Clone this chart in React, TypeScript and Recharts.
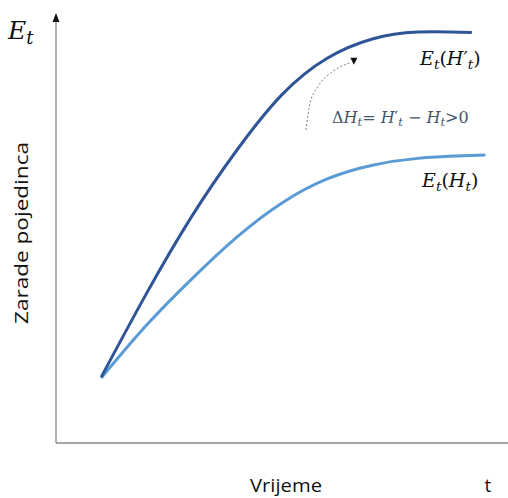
import { LineChart, Line, XAxis, YAxis, ReferenceDot, ReferenceLine } from "recharts";

// time grid (arbitrary units, 0..100 along the horizontal axis)
const timeHigh = [10, 20, 30, 40, 50, 60, 70, 80, 92];
const timeBase = [10, 20, 30, 40, 50, 60, 70, 80, 90, 95];
// earnings with higher human capital H'_t (dark curve)
const earningsHigh = [15.4, 34.9, 52.9, 68.4, 81.4, 89.9, 94.4, 96.0, 95.9];
// earnings with H_t (light curve)
const earningsBase = [15.2, 27.5, 38.3, 48.1, 56.1, 61.7, 64.9, 66.5, 67.1, 67.3];

// dotted arrow showing the shift from H_t to H'_t
const shiftTime = [55.3, 56.2, 58.0, 61.1, 65.0];
const shiftValue = [73.1, 79.4, 83.4, 86.7, 88.8];

const highData = timeHigh.map((t, i) => ({ t, high: earningsHigh[i] }));
const baseData = timeBase.map((t, i) => ({ t, base: earningsBase[i] }));
const shiftData = shiftTime.map((t, i) => ({ t, shift: shiftValue[i] }));

const AXIS = "#898989";
const DARK = "#2F5597";
const LIGHT = "#5B9BD5";
const SERIF = "'DejaVu Serif', serif";
const SANS = "'Open Sans', sans-serif";

function UpArrow(props: any) {
  const { cx, cy } = props;
  return <path d={`M${cx},${cy - 2} L${cx - 3.5},${cy + 7} L${cx + 3.5},${cy + 7} Z`} fill="#111" />;
}

function DownArrow(props: any) {
  const { cx, cy } = props;
  return <path d={`M${cx - 3.5},${cy - 3} L${cx + 3.5},${cy - 3} L${cx},${cy + 4} Z`} fill="#111" />;
}

function MathLabel({ x, y, size, parts, fill = "#111" }: any) {
  return (
    <text x={x} y={y} fontFamily={SERIF} fontSize={size} fill={fill}>
      {parts.map((p: any, i: number) => (
        <tspan
          key={i}
          fontStyle={p.italic ? "italic" : "normal"}
          fontSize={p.sub ? size * 0.72 : size}
          dy={p.dy ?? 0}
        >
          {p.text}
        </tspan>
      ))}
    </text>
  );
}

export default function App() {
  return (
    <div style={{ position: "absolute", left: 0, top: 0, width: 508, height: 498, background: "#fff" }}>
      <LineChart width={508} height={498} margin={{ top: 15, right: 0, bottom: 55, left: 56 }}>
        <XAxis dataKey="t" type="number" domain={[0, 100]} hide allowDataOverflow />
        <YAxis type="number" domain={[0, 100]} hide allowDataOverflow />
        <ReferenceLine y={0} stroke={AXIS} strokeWidth={1.3} />
        <ReferenceLine x={0} stroke={AXIS} strokeWidth={1.3} />
        <Line
          data={baseData}
          dataKey="base"
          type="natural"
          stroke={LIGHT}
          strokeWidth={3}
          dot={false}
          isAnimationActive={false}
        />
        <Line
          data={highData}
          dataKey="high"
          type="natural"
          stroke={DARK}
          strokeWidth={3}
          dot={false}
          isAnimationActive={false}
        />
        <Line
          data={shiftData}
          dataKey="shift"
          type="monotone"
          stroke="#7f7f7f"
          strokeWidth={1}
          strokeDasharray="2 2"
          dot={false}
          isAnimationActive={false}
        />
        <ReferenceDot x={65.9} y={89.3} r={4} shape={DownArrow} ifOverflow="visible" />
        <ReferenceDot x={0} y={100} r={4} shape={UpArrow} ifOverflow="visible" />
      </LineChart>

      <svg width={508} height={498} style={{ position: "absolute", left: 0, top: 0, pointerEvents: "none" }}>
        <MathLabel
          x={8}
          y={39}
          size={25}
          parts={[
            { text: "E", italic: true },
            { text: "t", italic: true, sub: true, dy: 5 },
          ]}
        />
        <MathLabel
          x={420}
          y={65}
          size={19}
          parts={[
            { text: "E", italic: true },
            { text: "t", italic: true, sub: true, dy: 4 },
            { text: "(", dy: -4 },
            { text: "H", italic: true },
            { text: "\u2032" },
            { text: "t", italic: true, sub: true, dy: 4 },
            { text: ")", dy: -4 },
          ]}
        />
        <MathLabel
          x={422}
          y={187}
          size={19}
          parts={[
            { text: "E", italic: true },
            { text: "t", italic: true, sub: true, dy: 4 },
            { text: "(", dy: -4 },
            { text: "H", italic: true },
            { text: "t", italic: true, sub: true, dy: 4 },
            { text: ")", dy: -4 },
          ]}
        />
        <MathLabel
          x={332}
          y={123}
          size={16}
          fill="#44546A"
          parts={[
            { text: "\u0394" },
            { text: "H", italic: true },
            { text: "t", italic: true, sub: true, dy: 3 },
            { text: "= ", dy: -3 },
            { text: "H", italic: true },
            { text: "\u2032" },
            { text: "t", italic: true, sub: true, dy: 3 },
            { text: " \u2212 ", dy: -3 },
            { text: "H", italic: true },
            { text: "t", italic: true, sub: true, dy: 3 },
            { text: ">0", dy: -3 },
          ]}
        />
        <text
          x={28}
          y={233}
          transform="rotate(-90 28 233)"
          textAnchor="middle"
          fontFamily={SANS}
          fontSize={19}
          textLength={182}
          lengthAdjust="spacingAndGlyphs"
          fill="#111"
        >
          Zarade pojedinca
        </text>
        <text
          x={286}
          y={492}
          textAnchor="middle"
          fontFamily={SANS}
          fontSize={19}
          textLength={72}
          lengthAdjust="spacingAndGlyphs"
          fill="#111"
        >
          Vrijeme
        </text>
        <text x={488} y={492} textAnchor="middle" fontFamily={SANS} fontSize={19} fill="#111">
          t
        </text>
      </svg>
    </div>
  );
}
